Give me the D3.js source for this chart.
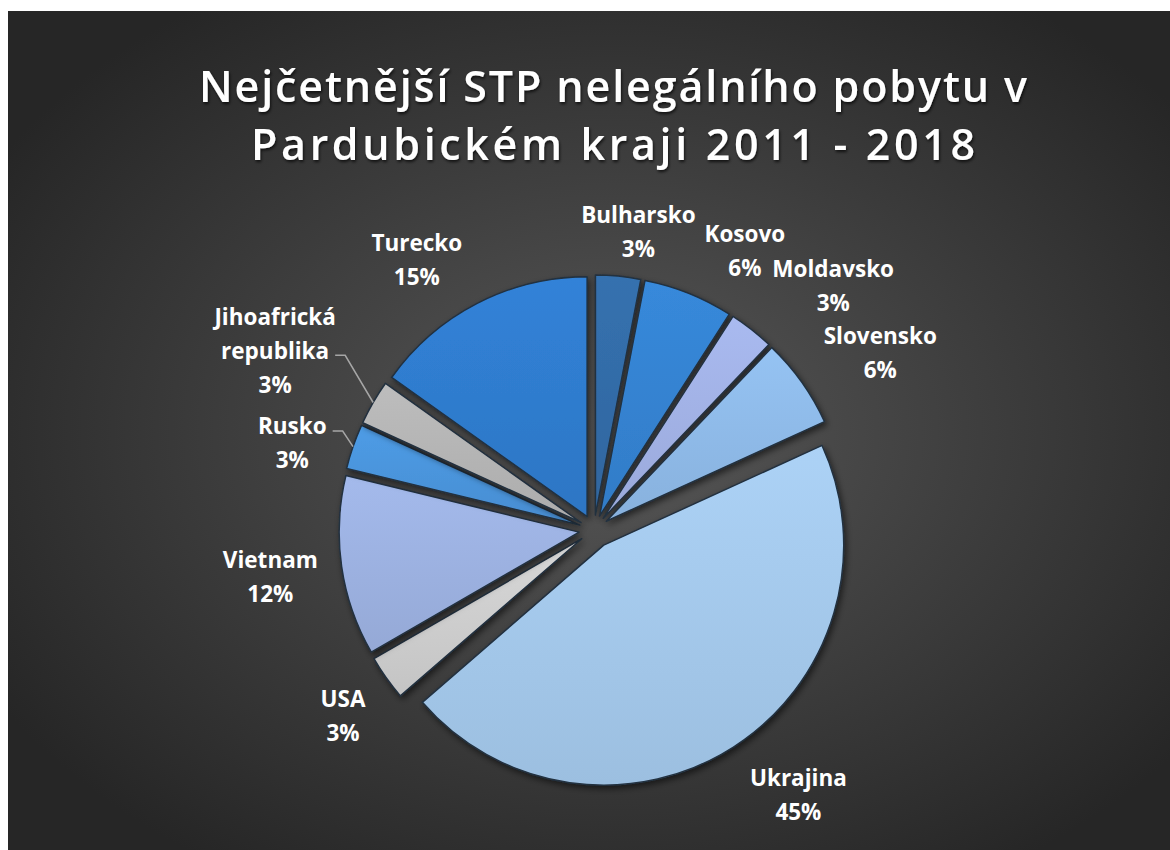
<!DOCTYPE html>
<html>
<head>
<meta charset="utf-8">
<script src="https://cdn.jsdelivr.net/npm/d3@7"></script>
<style>
  body { margin:0; background:#fff; }
  svg { display:block; }
  text { font-family:"Open Sans","Liberation Sans",sans-serif; fill:#fff; }
</style>
</head>
<body>
<div id="chart-area"></div>
<script>
//Data - countries (clockwise from 12 o'clock) and number of cases
var categories = ["Bulharsko","Kosovo","Moldavsko","Slovensko","Ukrajina","USA","Vietnam","Rusko","Jihoafrická republika","Turecko"]
var values = [1,2,1,2,15,1,4,1,1,5]
var titleLines = ["Nejčetnější STP nelegálního pobytu v","Pardubickém kraji 2011 - 2018"]

//Styles
var colors = ["#336ca8","#3583d2","#a2b2e6","#8fbbe9","#a5c9ec","#cfcfcf","#9db2e2","#4b95dc","#b5b5b5","#2f7dcf"]
var titleWidths = [828,724]
var labelLines = {"Jihoafrická republika":["Jihoafrická","republika"]}
var leaders = ["Rusko","Jihoafrická republika"]
//label nudges: [angle in degrees, radius]
var labelNudge = {
    "Bulharsko":[3,-16],"Kosovo":[6.5,0],"Moldavsko":[6.2,24],"Slovensko":[3.6,19],
    "Ukrajina":[-5,16],"USA":[-1,-6],"Vietnam":[0,9],"Rusko":[-3,-4],
    "Jihoafrická republika":[-0.6,48],"Turecko":[-6,5]
}

var W = 1170, H = 850
var cx = 594, cy = 530, R = 240, explode = 15
var labelR = 318, lineH = 34

var svg = d3.select("#chart-area")
    .append("svg")
        .attr("width",W)
        .attr("height",H)

var defs = svg.append("defs")

//Background
var bg = defs.append("radialGradient")
    .attr("id","bg")
    .attr("cx","52%").attr("cy","50%").attr("r","62%")
bg.append("stop").attr("offset","0%").attr("stop-color","#575757")
bg.append("stop").attr("offset","100%").attr("stop-color","#262626")

var shadow = defs.append("filter")
    .attr("id","shadow")
    .attr("x","-20%").attr("y","-20%").attr("width","140%").attr("height","140%")
shadow.append("feDropShadow")
    .attr("dx",2).attr("dy",3).attr("stdDeviation",3)
    .attr("flood-color","#000").attr("flood-opacity",0.55)

var tshadow = defs.append("filter").attr("id","tshadow")
tshadow.append("feDropShadow")
    .attr("dx",1).attr("dy",2).attr("stdDeviation",1.5)
    .attr("flood-color","#000").attr("flood-opacity",0.7)

svg.append("rect")
    .attr("x",8).attr("y",11)
    .attr("width",W - 8).attr("height",H - 11)
    .attr("fill","url(#bg)")

//Title
svg.selectAll("text.title")
    .data(titleLines)
    .enter()
    .append("text")
        .attr("class","title")
        .attr("x",613)
        .attr("y",(d,i)=> 102 + i * 58)
        .attr("textLength",(d,i)=>titleWidths[i])
        .attr("lengthAdjust","spacing")
        .attr("text-anchor","middle")
        .attr("font-size","43px")
        .attr("font-weight","600")
        .attr("filter","url(#tshadow)")
        .text(d=>d)

//Pie
var data = categories.map((c,i)=>({name:c,value:values[i],color:colors[i]}))
var total = d3.sum(values)
var pct = d3.format(".0%")

var pie = d3.pie()
    .sort(null)
    .value(d=>d.value)

var arc = d3.arc()
    .innerRadius(0)
    .outerRadius(R)

var arcs = pie(data)

arcs.forEach((d,i)=>{
    var g = defs.append("linearGradient")
        .attr("id","grad" + i)
        .attr("x1",0).attr("y1",0).attr("x2",0).attr("y2",1)
    g.append("stop").attr("offset","0%").attr("stop-color",d3.color(d.data.color).brighter(0.12))
    g.append("stop").attr("offset","100%").attr("stop-color",d3.color(d.data.color).darker(0.15))
})

var canvas = svg.append("g")
    .attr("transform","translate(" + cx + "," + cy + ")")

const mid = (d)=> (d.startAngle + d.endAngle) / 2

canvas.selectAll("path.slice")
    .data(arcs)
    .enter()
    .append("path")
        .attr("class","slice")
        .attr("d",arc)
        .attr("transform",(d)=>{
            var e = d.data.name == "Ukrajina" ? 18 : explode
            return "translate(" + e * Math.sin(mid(d)) + "," + (-e * Math.cos(mid(d))) + ")"
        })
        .attr("fill",(d,i)=>"url(#grad" + i + ")")
        .attr("stroke","#22303f")
        .attr("stroke-width",1.5)
        .attr("stroke-linejoin","round")
        .attr("filter","url(#shadow)")

//Data labels
var labels = canvas.selectAll("text.label")
    .data(arcs)
    .enter()
    .append("text")
        .attr("class","label")
        .attr("text-anchor","middle")
        .attr("font-size","22.5px")
        .attr("font-weight","700")
        .each(function(d){
            var nudge = labelNudge[d.data.name] || [0,0]
            var a = mid(d) + nudge[0] * Math.PI / 180
            var r = labelR + nudge[1]
            var lx = r * Math.sin(a)
            var ly = -r * Math.cos(a)
            var lines = (labelLines[d.data.name] || [d.data.name]).concat([pct(d.data.value / total)])
            var top = ly - (lines.length - 1) * lineH / 2
            var t = d3.select(this)
            lines.forEach((l,j)=>{
                t.append("tspan")
                    .attr("x",lx)
                    .attr("y",top + j * lineH)
                    .attr("dominant-baseline","central")
                    .text(l)
            })
            d.lx = lx
            d.lineY = top + (lines.length - 2) * lineH
        })

//Leader lines
labels.filter(d=>leaders.indexOf(d.data.name) >= 0)
    .each(function(d){
        var spans = d3.select(this).selectAll("tspan").nodes()
        var nameSpan = spans[spans.length - 2]
        var w = nameSpan.getComputedTextLength()
        var x0 = d.lx + w / 2 + 6
        var y0 = d.lineY + 5
        var px = (R + explode) * Math.sin(mid(d))
        var py = -(R + explode) * Math.cos(mid(d))
        canvas.append("path")
            .attr("d",d3.line()([[x0,y0],[x0 + 10,y0],[px,py]]))
            .attr("fill","none")
            .attr("stroke","#a6a6a6")
            .attr("stroke-width",1.5)
    })
</script>
</body>
</html>
